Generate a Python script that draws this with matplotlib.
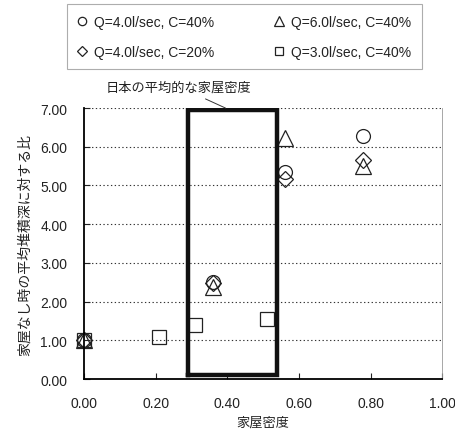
import matplotlib
matplotlib.use('Agg')
import matplotlib.pyplot as plt

plt.rcParams['font.family'] = ['Liberation Sans', 'Noto Sans CJK JP', 'DejaVu Sans']

# データ (家屋密度, 比)
circle_x = [0.00, 0.36, 0.56, 0.78]
circle_y = [1.00, 2.50, 5.35, 6.28]
tri_x = [0.00, 0.36, 0.56, 0.78]
tri_y = [1.00, 2.38, 6.22, 5.50]
dia_x = [0.00, 0.36, 0.56, 0.78]
dia_y = [1.00, 2.48, 5.18, 5.65]
sq_x = [0.00, 0.21, 0.31, 0.51]
sq_y = [1.00, 1.10, 1.41, 1.56]

labels = ['Q=4.0l/sec, C=40%', 'Q=4.0l/sec, C=20%',
          'Q=6.0l/sec, C=40%', 'Q=3.0l/sec, C=40%']

# 日本の平均的な家屋密度の範囲
box_x = [0.29, 0.54]
box_y = [0.10, 6.95]

fig = plt.figure(figsize=(4.56, 4.31), dpi=100)
ax = fig.add_axes([0.184, 0.118, 0.786, 0.629])

mk = dict(linestyle='none', markerfacecolor='none', markeredgecolor='#222222',
          markeredgewidth=0.9, clip_on=False)
h1, = ax.plot(circle_x, circle_y, marker='o', markersize=10, **mk)
h3, = ax.plot(tri_x, tri_y, marker='^', markersize=11, **mk)
h2, = ax.plot(dia_x, dia_y, marker='D', markersize=8, **mk)
h4, = ax.plot(sq_x, sq_y, marker='s', markersize=9.5, **mk)

# 太枠
ax.plot([box_x[0], box_x[0], box_x[1], box_x[1], box_x[0]],
        [box_y[0], box_y[1], box_y[1], box_y[0], box_y[0]],
        color='#111111', linewidth=3.2, solid_joinstyle='miter')

jp = ['Noto Sans CJK JP']
ax.annotate('日本の平均的な家屋密度', xy=(0.395, 7.0), xytext=(0.265, 7.55),
            ha='center', va='center', fontsize=9.5, family=jp, color='#222222',
            arrowprops=dict(arrowstyle='-', color='#333333', linewidth=0.7,
                            shrinkA=5, shrinkB=0),
            annotation_clip=False)

ax.set_xlim(0, 1.0)
ax.set_ylim(0, 7.0)
ax.set_xticks([0, 0.2, 0.4, 0.6, 0.8, 1.0])
ax.set_yticks(range(8))
ax.set_xticklabels(['%.2f' % v for v in ax.get_xticks()])
ax.set_yticklabels(['%.2f' % v for v in range(8)])
ax.tick_params(direction='in', length=4, labelsize=10, colors='#222222')
ax.tick_params(axis='y', pad=12)
ax.tick_params(axis='x', pad=12)

for v in range(1, 8):
    ax.axhline(v, color='#333333', linestyle=(0, (1.2, 2.2)), linewidth=0.8, zorder=0)

ax.spines['top'].set_visible(False)
ax.spines['right'].set_color('#999999')
ax.spines['right'].set_linewidth(0.6)
ax.spines['left'].set_linewidth(1.3)
ax.spines['bottom'].set_linewidth(1.3)

ax.set_xlabel('家屋密度', fontsize=9.5, family=jp, color='#222222', labelpad=4)
ax.set_ylabel('家屋なし時の平均堆積深に対する比', fontsize=10, family=jp,
              color='#222222', labelpad=6)

leg = fig.legend([h1, h2, h3, h4], labels, ncol=2, loc='upper left',
                 bbox_to_anchor=(0.147, 0.842, 0.778, 0.146), mode='expand',
                 borderaxespad=0, fontsize=10, frameon=True, fancybox=False,
                 handlelength=0.7, handletextpad=0.5, columnspacing=2.0,
                 borderpad=0.75, labelspacing=1.15, markerscale=0.6)
leg.get_frame().set_edgecolor('#999999')
leg.get_frame().set_linewidth(0.8)
for t in leg.get_texts():
    t.set_color('#222222')

fig.savefig('out.png', dpi=100)
